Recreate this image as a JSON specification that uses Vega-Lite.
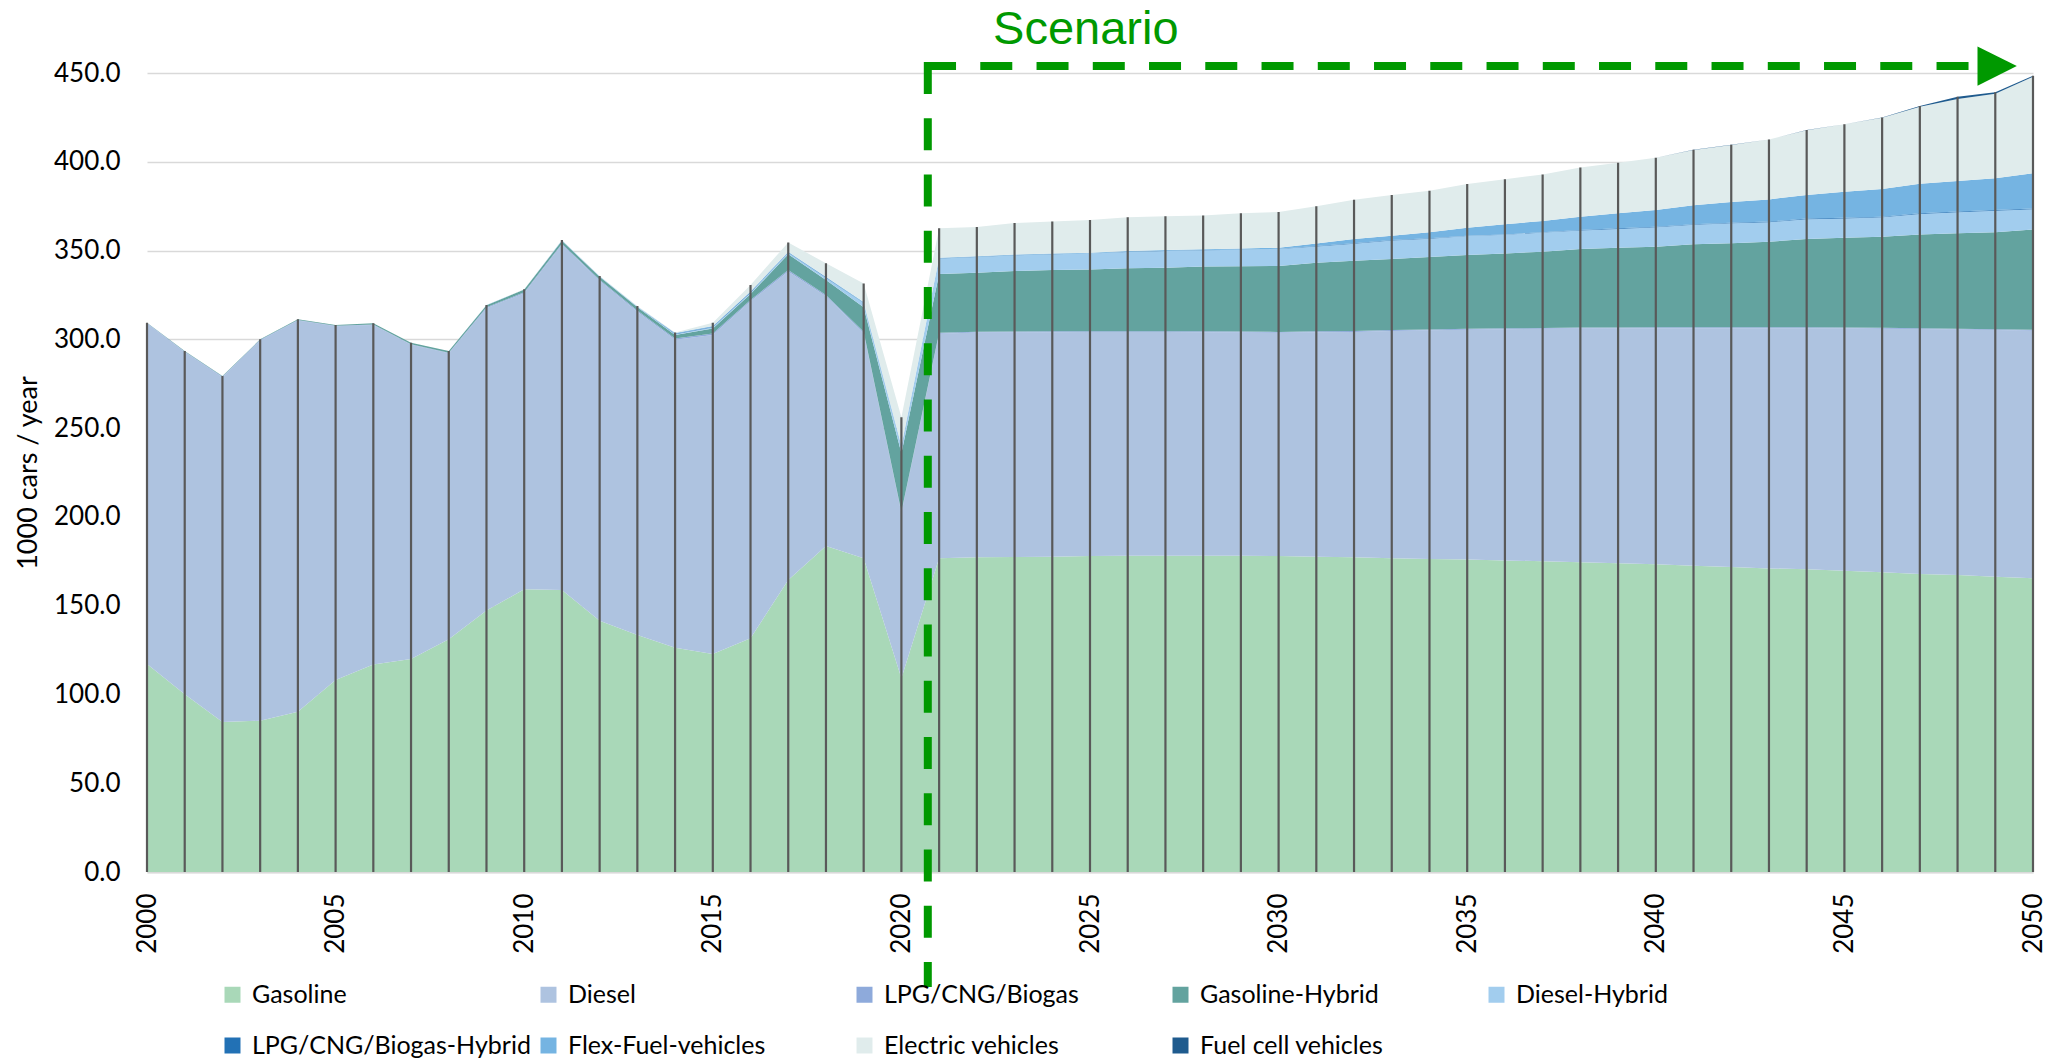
{
  "$schema": "https://vega.github.io/schema/vega-lite/v6.json",
  "width": 1886,
  "height": 799,
  "autosize": {"type": "none"},
  "padding": {"left": 147, "top": 73, "right": 21, "bottom": 189},
  "background": "white",
  "config": {
    "view": {"stroke": null},
    "font": "Lato",
    "axis": {"labelFont": "Lato", "titleFont": "Lato", "labelColor": "#000000", "titleColor": "#000000"},
    "axisX": {"labelAngle": 270, "labelFontSize": 26, "labelPadding": 21, "ticks": false, "tickSize": 0, "grid": false, "domain": true, "domainColor": "#d9d9d9", "domainWidth": 2},
    "axisY": {"labelFontSize": 26, "labelPadding": 27, "ticks": false, "tickSize": 0, "domain": false, "grid": true, "gridColor": "#d9d9d9", "gridWidth": 1.5, "titleFontSize": 27, "titleFontWeight": "normal", "titleAngle": 270, "titleX": -119, "titleBaseline": "middle", "titleAlign": "center"},
    "legend": {"labelFont": "Lato"}
  },
  "datasets": {
    "fuels": [
      {"fuel": "Gasoline", "rank": 1},
      {"fuel": "Diesel", "rank": 2},
      {"fuel": "LPG/CNG/Biogas", "rank": 3},
      {"fuel": "Gasoline-Hybrid", "rank": 4},
      {"fuel": "Diesel-Hybrid", "rank": 5},
      {"fuel": "LPG/CNG/Biogas-Hybrid", "rank": 6},
      {"fuel": "Flex-Fuel-vehicles", "rank": 7},
      {"fuel": "Electric vehicles", "rank": 8},
      {"fuel": "Fuel cell vehicles", "rank": 9}
    ],
    "sales": [
      {"year":2000,"fuel":"Gasoline","value":117.1},{"year":2000,"fuel":"Diesel","value":191.8},{"year":2000,"fuel":"LPG/CNG/Biogas","value":0.3},{"year":2000,"fuel":"Gasoline-Hybrid","value":0.2},{"year":2000,"fuel":"Diesel-Hybrid","value":0},{"year":2000,"fuel":"LPG/CNG/Biogas-Hybrid","value":0},{"year":2000,"fuel":"Flex-Fuel-vehicles","value":0},{"year":2000,"fuel":"Electric vehicles","value":0},{"year":2000,"fuel":"Fuel cell vehicles","value":0},
      {"year":2001,"fuel":"Gasoline","value":100.1},{"year":2001,"fuel":"Diesel","value":192.8},{"year":2001,"fuel":"LPG/CNG/Biogas","value":0.3},{"year":2001,"fuel":"Gasoline-Hybrid","value":0.2},{"year":2001,"fuel":"Diesel-Hybrid","value":0},{"year":2001,"fuel":"LPG/CNG/Biogas-Hybrid","value":0},{"year":2001,"fuel":"Flex-Fuel-vehicles","value":0},{"year":2001,"fuel":"Electric vehicles","value":0},{"year":2001,"fuel":"Fuel cell vehicles","value":0},
      {"year":2002,"fuel":"Gasoline","value":84.5},{"year":2002,"fuel":"Diesel","value":194.2},{"year":2002,"fuel":"LPG/CNG/Biogas","value":0.3},{"year":2002,"fuel":"Gasoline-Hybrid","value":0.3},{"year":2002,"fuel":"Diesel-Hybrid","value":0},{"year":2002,"fuel":"LPG/CNG/Biogas-Hybrid","value":0},{"year":2002,"fuel":"Flex-Fuel-vehicles","value":0},{"year":2002,"fuel":"Electric vehicles","value":0},{"year":2002,"fuel":"Fuel cell vehicles","value":0},
      {"year":2003,"fuel":"Gasoline","value":85.2},{"year":2003,"fuel":"Diesel","value":214.2},{"year":2003,"fuel":"LPG/CNG/Biogas","value":0.3},{"year":2003,"fuel":"Gasoline-Hybrid","value":0.3},{"year":2003,"fuel":"Diesel-Hybrid","value":0},{"year":2003,"fuel":"LPG/CNG/Biogas-Hybrid","value":0},{"year":2003,"fuel":"Flex-Fuel-vehicles","value":0},{"year":2003,"fuel":"Electric vehicles","value":0},{"year":2003,"fuel":"Fuel cell vehicles","value":0},
      {"year":2004,"fuel":"Gasoline","value":90.3},{"year":2004,"fuel":"Diesel","value":220.3},{"year":2004,"fuel":"LPG/CNG/Biogas","value":0.3},{"year":2004,"fuel":"Gasoline-Hybrid","value":0.4},{"year":2004,"fuel":"Diesel-Hybrid","value":0},{"year":2004,"fuel":"LPG/CNG/Biogas-Hybrid","value":0},{"year":2004,"fuel":"Flex-Fuel-vehicles","value":0},{"year":2004,"fuel":"Electric vehicles","value":0},{"year":2004,"fuel":"Fuel cell vehicles","value":0},
      {"year":2005,"fuel":"Gasoline","value":108.1},{"year":2005,"fuel":"Diesel","value":199.2},{"year":2005,"fuel":"LPG/CNG/Biogas","value":0.3},{"year":2005,"fuel":"Gasoline-Hybrid","value":0.5},{"year":2005,"fuel":"Diesel-Hybrid","value":0},{"year":2005,"fuel":"LPG/CNG/Biogas-Hybrid","value":0},{"year":2005,"fuel":"Flex-Fuel-vehicles","value":0},{"year":2005,"fuel":"Electric vehicles","value":0},{"year":2005,"fuel":"Fuel cell vehicles","value":0},
      {"year":2006,"fuel":"Gasoline","value":116.9},{"year":2006,"fuel":"Diesel","value":191.2},{"year":2006,"fuel":"LPG/CNG/Biogas","value":0.3},{"year":2006,"fuel":"Gasoline-Hybrid","value":0.6},{"year":2006,"fuel":"Diesel-Hybrid","value":0},{"year":2006,"fuel":"LPG/CNG/Biogas-Hybrid","value":0},{"year":2006,"fuel":"Flex-Fuel-vehicles","value":0},{"year":2006,"fuel":"Electric vehicles","value":0},{"year":2006,"fuel":"Fuel cell vehicles","value":0},
      {"year":2007,"fuel":"Gasoline","value":120.0},{"year":2007,"fuel":"Diesel","value":177.0},{"year":2007,"fuel":"LPG/CNG/Biogas","value":0.3},{"year":2007,"fuel":"Gasoline-Hybrid","value":0.8},{"year":2007,"fuel":"Diesel-Hybrid","value":0},{"year":2007,"fuel":"LPG/CNG/Biogas-Hybrid","value":0},{"year":2007,"fuel":"Flex-Fuel-vehicles","value":0},{"year":2007,"fuel":"Electric vehicles","value":0},{"year":2007,"fuel":"Fuel cell vehicles","value":0},
      {"year":2008,"fuel":"Gasoline","value":131.1},{"year":2008,"fuel":"Diesel","value":161.1},{"year":2008,"fuel":"LPG/CNG/Biogas","value":0.3},{"year":2008,"fuel":"Gasoline-Hybrid","value":0.9},{"year":2008,"fuel":"Diesel-Hybrid","value":0},{"year":2008,"fuel":"LPG/CNG/Biogas-Hybrid","value":0},{"year":2008,"fuel":"Flex-Fuel-vehicles","value":0},{"year":2008,"fuel":"Electric vehicles","value":0},{"year":2008,"fuel":"Fuel cell vehicles","value":0},
      {"year":2009,"fuel":"Gasoline","value":147.3},{"year":2009,"fuel":"Diesel","value":170.2},{"year":2009,"fuel":"LPG/CNG/Biogas","value":0.5},{"year":2009,"fuel":"Gasoline-Hybrid","value":1.2},{"year":2009,"fuel":"Diesel-Hybrid","value":0.1},{"year":2009,"fuel":"LPG/CNG/Biogas-Hybrid","value":0},{"year":2009,"fuel":"Flex-Fuel-vehicles","value":0},{"year":2009,"fuel":"Electric vehicles","value":0},{"year":2009,"fuel":"Fuel cell vehicles","value":0},
      {"year":2010,"fuel":"Gasoline","value":159.2},{"year":2010,"fuel":"Diesel","value":166.8},{"year":2010,"fuel":"LPG/CNG/Biogas","value":0.5},{"year":2010,"fuel":"Gasoline-Hybrid","value":1.5},{"year":2010,"fuel":"Diesel-Hybrid","value":0.1},{"year":2010,"fuel":"LPG/CNG/Biogas-Hybrid","value":0},{"year":2010,"fuel":"Flex-Fuel-vehicles","value":0},{"year":2010,"fuel":"Electric vehicles","value":0.1},{"year":2010,"fuel":"Fuel cell vehicles","value":0},
      {"year":2011,"fuel":"Gasoline","value":158.8},{"year":2011,"fuel":"Diesel","value":194.6},{"year":2011,"fuel":"LPG/CNG/Biogas","value":0.5},{"year":2011,"fuel":"Gasoline-Hybrid","value":1.6},{"year":2011,"fuel":"Diesel-Hybrid","value":0.2},{"year":2011,"fuel":"LPG/CNG/Biogas-Hybrid","value":0},{"year":2011,"fuel":"Flex-Fuel-vehicles","value":0.1},{"year":2011,"fuel":"Electric vehicles","value":0.1},{"year":2011,"fuel":"Fuel cell vehicles","value":0},
      {"year":2012,"fuel":"Gasoline","value":141.5},{"year":2012,"fuel":"Diesel","value":191.5},{"year":2012,"fuel":"LPG/CNG/Biogas","value":0.5},{"year":2012,"fuel":"Gasoline-Hybrid","value":1.7},{"year":2012,"fuel":"Diesel-Hybrid","value":0.2},{"year":2012,"fuel":"LPG/CNG/Biogas-Hybrid","value":0},{"year":2012,"fuel":"Flex-Fuel-vehicles","value":0.1},{"year":2012,"fuel":"Electric vehicles","value":0.2},{"year":2012,"fuel":"Fuel cell vehicles","value":0},
      {"year":2013,"fuel":"Gasoline","value":133.5},{"year":2013,"fuel":"Diesel","value":182.1},{"year":2013,"fuel":"LPG/CNG/Biogas","value":0.6},{"year":2013,"fuel":"Gasoline-Hybrid","value":1.8},{"year":2013,"fuel":"Diesel-Hybrid","value":0.3},{"year":2013,"fuel":"LPG/CNG/Biogas-Hybrid","value":0},{"year":2013,"fuel":"Flex-Fuel-vehicles","value":0.2},{"year":2013,"fuel":"Electric vehicles","value":0.3},{"year":2013,"fuel":"Fuel cell vehicles","value":0},
      {"year":2014,"fuel":"Gasoline","value":126.3},{"year":2014,"fuel":"Diesel","value":173.4},{"year":2014,"fuel":"LPG/CNG/Biogas","value":0.8},{"year":2014,"fuel":"Gasoline-Hybrid","value":1.9},{"year":2014,"fuel":"Diesel-Hybrid","value":0.5},{"year":2014,"fuel":"LPG/CNG/Biogas-Hybrid","value":0.3},{"year":2014,"fuel":"Flex-Fuel-vehicles","value":0.3},{"year":2014,"fuel":"Electric vehicles","value":0.4},{"year":2014,"fuel":"Fuel cell vehicles","value":0},
      {"year":2015,"fuel":"Gasoline","value":122.8},{"year":2015,"fuel":"Diesel","value":179.7},{"year":2015,"fuel":"LPG/CNG/Biogas","value":0.8},{"year":2015,"fuel":"Gasoline-Hybrid","value":2.8},{"year":2015,"fuel":"Diesel-Hybrid","value":0.7},{"year":2015,"fuel":"LPG/CNG/Biogas-Hybrid","value":0.3},{"year":2015,"fuel":"Flex-Fuel-vehicles","value":0.4},{"year":2015,"fuel":"Electric vehicles","value":1.9},{"year":2015,"fuel":"Fuel cell vehicles","value":0},
      {"year":2016,"fuel":"Gasoline","value":131.6},{"year":2016,"fuel":"Diesel","value":189.8},{"year":2016,"fuel":"LPG/CNG/Biogas","value":0.8},{"year":2016,"fuel":"Gasoline-Hybrid","value":3.3},{"year":2016,"fuel":"Diesel-Hybrid","value":0.8},{"year":2016,"fuel":"LPG/CNG/Biogas-Hybrid","value":0.3},{"year":2016,"fuel":"Flex-Fuel-vehicles","value":0.4},{"year":2016,"fuel":"Electric vehicles","value":3.6},{"year":2016,"fuel":"Fuel cell vehicles","value":0},
      {"year":2017,"fuel":"Gasoline","value":164.5},{"year":2017,"fuel":"Diesel","value":173.7},{"year":2017,"fuel":"LPG/CNG/Biogas","value":0.8},{"year":2017,"fuel":"Gasoline-Hybrid","value":8.9},{"year":2017,"fuel":"Diesel-Hybrid","value":0.9},{"year":2017,"fuel":"LPG/CNG/Biogas-Hybrid","value":0.2},{"year":2017,"fuel":"Flex-Fuel-vehicles","value":0.3},{"year":2017,"fuel":"Electric vehicles","value":5.3},{"year":2017,"fuel":"Fuel cell vehicles","value":0},
      {"year":2018,"fuel":"Gasoline","value":183.6},{"year":2018,"fuel":"Diesel","value":140.6},{"year":2018,"fuel":"LPG/CNG/Biogas","value":0.8},{"year":2018,"fuel":"Gasoline-Hybrid","value":8.4},{"year":2018,"fuel":"Diesel-Hybrid","value":1.3},{"year":2018,"fuel":"LPG/CNG/Biogas-Hybrid","value":0.2},{"year":2018,"fuel":"Flex-Fuel-vehicles","value":0.3},{"year":2018,"fuel":"Electric vehicles","value":7.6},{"year":2018,"fuel":"Fuel cell vehicles","value":0},
      {"year":2019,"fuel":"Gasoline","value":176.7},{"year":2019,"fuel":"Diesel","value":126.8},{"year":2019,"fuel":"LPG/CNG/Biogas","value":0.8},{"year":2019,"fuel":"Gasoline-Hybrid","value":13.7},{"year":2019,"fuel":"Diesel-Hybrid","value":2.4},{"year":2019,"fuel":"LPG/CNG/Biogas-Hybrid","value":0.2},{"year":2019,"fuel":"Flex-Fuel-vehicles","value":0.4},{"year":2019,"fuel":"Electric vehicles","value":10.5},{"year":2019,"fuel":"Fuel cell vehicles","value":0},
      {"year":2020,"fuel":"Gasoline","value":109.1},{"year":2020,"fuel":"Diesel","value":93.0},{"year":2020,"fuel":"LPG/CNG/Biogas","value":0.8},{"year":2020,"fuel":"Gasoline-Hybrid","value":32.9},{"year":2020,"fuel":"Diesel-Hybrid","value":3.5},{"year":2020,"fuel":"LPG/CNG/Biogas-Hybrid","value":0.2},{"year":2020,"fuel":"Flex-Fuel-vehicles","value":0.5},{"year":2020,"fuel":"Electric vehicles","value":16.1},{"year":2020,"fuel":"Fuel cell vehicles","value":0},
      {"year":2021,"fuel":"Gasoline","value":176.7},{"year":2021,"fuel":"Diesel","value":126.5},{"year":2021,"fuel":"LPG/CNG/Biogas","value":0.5},{"year":2021,"fuel":"Gasoline-Hybrid","value":33.1},{"year":2021,"fuel":"Diesel-Hybrid","value":8.7},{"year":2021,"fuel":"LPG/CNG/Biogas-Hybrid","value":0.1},{"year":2021,"fuel":"Flex-Fuel-vehicles","value":0.3},{"year":2021,"fuel":"Electric vehicles","value":16.6},{"year":2021,"fuel":"Fuel cell vehicles","value":0},
      {"year":2022,"fuel":"Gasoline","value":177.2},{"year":2022,"fuel":"Diesel","value":126.6},{"year":2022,"fuel":"LPG/CNG/Biogas","value":0.5},{"year":2022,"fuel":"Gasoline-Hybrid","value":33.2},{"year":2022,"fuel":"Diesel-Hybrid","value":8.9},{"year":2022,"fuel":"LPG/CNG/Biogas-Hybrid","value":0.1},{"year":2022,"fuel":"Flex-Fuel-vehicles","value":0.3},{"year":2022,"fuel":"Electric vehicles","value":16.5},{"year":2022,"fuel":"Fuel cell vehicles","value":0},
      {"year":2023,"fuel":"Gasoline","value":177.4},{"year":2023,"fuel":"Diesel","value":126.5},{"year":2023,"fuel":"LPG/CNG/Biogas","value":0.5},{"year":2023,"fuel":"Gasoline-Hybrid","value":34.1},{"year":2023,"fuel":"Diesel-Hybrid","value":8.9},{"year":2023,"fuel":"LPG/CNG/Biogas-Hybrid","value":0.1},{"year":2023,"fuel":"Flex-Fuel-vehicles","value":0.3},{"year":2023,"fuel":"Electric vehicles","value":17.7},{"year":2023,"fuel":"Fuel cell vehicles","value":0},
      {"year":2024,"fuel":"Gasoline","value":177.6},{"year":2024,"fuel":"Diesel","value":126.4},{"year":2024,"fuel":"LPG/CNG/Biogas","value":0.5},{"year":2024,"fuel":"Gasoline-Hybrid","value":34.5},{"year":2024,"fuel":"Diesel-Hybrid","value":8.9},{"year":2024,"fuel":"LPG/CNG/Biogas-Hybrid","value":0.1},{"year":2024,"fuel":"Flex-Fuel-vehicles","value":0.3},{"year":2024,"fuel":"Electric vehicles","value":18.0},{"year":2024,"fuel":"Fuel cell vehicles","value":0},
      {"year":2025,"fuel":"Gasoline","value":178.0},{"year":2025,"fuel":"Diesel","value":126.1},{"year":2025,"fuel":"LPG/CNG/Biogas","value":0.5},{"year":2025,"fuel":"Gasoline-Hybrid","value":34.8},{"year":2025,"fuel":"Diesel-Hybrid","value":8.9},{"year":2025,"fuel":"LPG/CNG/Biogas-Hybrid","value":0.1},{"year":2025,"fuel":"Flex-Fuel-vehicles","value":0.4},{"year":2025,"fuel":"Electric vehicles","value":18.4},{"year":2025,"fuel":"Fuel cell vehicles","value":0},
      {"year":2026,"fuel":"Gasoline","value":178.1},{"year":2026,"fuel":"Diesel","value":126.0},{"year":2026,"fuel":"LPG/CNG/Biogas","value":0.5},{"year":2026,"fuel":"Gasoline-Hybrid","value":35.4},{"year":2026,"fuel":"Diesel-Hybrid","value":9.2},{"year":2026,"fuel":"LPG/CNG/Biogas-Hybrid","value":0.1},{"year":2026,"fuel":"Flex-Fuel-vehicles","value":0.4},{"year":2026,"fuel":"Electric vehicles","value":19.0},{"year":2026,"fuel":"Fuel cell vehicles","value":0},
      {"year":2027,"fuel":"Gasoline","value":178.1},{"year":2027,"fuel":"Diesel","value":126.0},{"year":2027,"fuel":"LPG/CNG/Biogas","value":0.5},{"year":2027,"fuel":"Gasoline-Hybrid","value":35.7},{"year":2027,"fuel":"Diesel-Hybrid","value":9.5},{"year":2027,"fuel":"LPG/CNG/Biogas-Hybrid","value":0.1},{"year":2027,"fuel":"Flex-Fuel-vehicles","value":0.4},{"year":2027,"fuel":"Electric vehicles","value":19.0},{"year":2027,"fuel":"Fuel cell vehicles","value":0},
      {"year":2028,"fuel":"Gasoline","value":178.1},{"year":2028,"fuel":"Diesel","value":125.9},{"year":2028,"fuel":"LPG/CNG/Biogas","value":0.5},{"year":2028,"fuel":"Gasoline-Hybrid","value":36.5},{"year":2028,"fuel":"Diesel-Hybrid","value":9.2},{"year":2028,"fuel":"LPG/CNG/Biogas-Hybrid","value":0.1},{"year":2028,"fuel":"Flex-Fuel-vehicles","value":0.5},{"year":2028,"fuel":"Electric vehicles","value":19.0},{"year":2028,"fuel":"Fuel cell vehicles","value":0},
      {"year":2029,"fuel":"Gasoline","value":178.1},{"year":2029,"fuel":"Diesel","value":125.8},{"year":2029,"fuel":"LPG/CNG/Biogas","value":0.5},{"year":2029,"fuel":"Gasoline-Hybrid","value":36.8},{"year":2029,"fuel":"Diesel-Hybrid","value":9.3},{"year":2029,"fuel":"LPG/CNG/Biogas-Hybrid","value":0.1},{"year":2029,"fuel":"Flex-Fuel-vehicles","value":0.5},{"year":2029,"fuel":"Electric vehicles","value":19.9},{"year":2029,"fuel":"Fuel cell vehicles","value":0},
      {"year":2030,"fuel":"Gasoline","value":178.0},{"year":2030,"fuel":"Diesel","value":125.7},{"year":2030,"fuel":"LPG/CNG/Biogas","value":0.5},{"year":2030,"fuel":"Gasoline-Hybrid","value":37.1},{"year":2030,"fuel":"Diesel-Hybrid","value":9.6},{"year":2030,"fuel":"LPG/CNG/Biogas-Hybrid","value":0.1},{"year":2030,"fuel":"Flex-Fuel-vehicles","value":0.6},{"year":2030,"fuel":"Electric vehicles","value":20.1},{"year":2030,"fuel":"Fuel cell vehicles","value":0},
      {"year":2031,"fuel":"Gasoline","value":177.6},{"year":2031,"fuel":"Diesel","value":126.4},{"year":2031,"fuel":"LPG/CNG/Biogas","value":0.5},{"year":2031,"fuel":"Gasoline-Hybrid","value":38.7},{"year":2031,"fuel":"Diesel-Hybrid","value":9.1},{"year":2031,"fuel":"LPG/CNG/Biogas-Hybrid","value":0.2},{"year":2031,"fuel":"Flex-Fuel-vehicles","value":1.5},{"year":2031,"fuel":"Electric vehicles","value":20.9},{"year":2031,"fuel":"Fuel cell vehicles","value":0},
      {"year":2032,"fuel":"Gasoline","value":177.2},{"year":2032,"fuel":"Diesel","value":127.0},{"year":2032,"fuel":"LPG/CNG/Biogas","value":0.5},{"year":2032,"fuel":"Gasoline-Hybrid","value":39.6},{"year":2032,"fuel":"Diesel-Hybrid","value":9.6},{"year":2032,"fuel":"LPG/CNG/Biogas-Hybrid","value":0.2},{"year":2032,"fuel":"Flex-Fuel-vehicles","value":2.4},{"year":2032,"fuel":"Electric vehicles","value":22.1},{"year":2032,"fuel":"Fuel cell vehicles","value":0},
      {"year":2033,"fuel":"Gasoline","value":176.7},{"year":2033,"fuel":"Diesel","value":128.0},{"year":2033,"fuel":"LPG/CNG/Biogas","value":0.5},{"year":2033,"fuel":"Gasoline-Hybrid","value":40.0},{"year":2033,"fuel":"Diesel-Hybrid","value":10.5},{"year":2033,"fuel":"LPG/CNG/Biogas-Hybrid","value":0.2},{"year":2033,"fuel":"Flex-Fuel-vehicles","value":2.5},{"year":2033,"fuel":"Electric vehicles","value":22.9},{"year":2033,"fuel":"Fuel cell vehicles","value":0},
      {"year":2034,"fuel":"Gasoline","value":176.3},{"year":2034,"fuel":"Diesel","value":128.8},{"year":2034,"fuel":"LPG/CNG/Biogas","value":0.5},{"year":2034,"fuel":"Gasoline-Hybrid","value":40.8},{"year":2034,"fuel":"Diesel-Hybrid","value":10.3},{"year":2034,"fuel":"LPG/CNG/Biogas-Hybrid","value":0.2},{"year":2034,"fuel":"Flex-Fuel-vehicles","value":3.4},{"year":2034,"fuel":"Electric vehicles","value":23.4},{"year":2034,"fuel":"Fuel cell vehicles","value":0},
      {"year":2035,"fuel":"Gasoline","value":176.0},{"year":2035,"fuel":"Diesel","value":129.4},{"year":2035,"fuel":"LPG/CNG/Biogas","value":0.5},{"year":2035,"fuel":"Gasoline-Hybrid","value":41.6},{"year":2035,"fuel":"Diesel-Hybrid","value":10.7},{"year":2035,"fuel":"LPG/CNG/Biogas-Hybrid","value":0.2},{"year":2035,"fuel":"Flex-Fuel-vehicles","value":4.5},{"year":2035,"fuel":"Electric vehicles","value":24.6},{"year":2035,"fuel":"Fuel cell vehicles","value":0},
      {"year":2036,"fuel":"Gasoline","value":175.5},{"year":2036,"fuel":"Diesel","value":130.2},{"year":2036,"fuel":"LPG/CNG/Biogas","value":0.5},{"year":2036,"fuel":"Gasoline-Hybrid","value":42.2},{"year":2036,"fuel":"Diesel-Hybrid","value":10.5},{"year":2036,"fuel":"LPG/CNG/Biogas-Hybrid","value":0.2},{"year":2036,"fuel":"Flex-Fuel-vehicles","value":5.7},{"year":2036,"fuel":"Electric vehicles","value":25.3},{"year":2036,"fuel":"Fuel cell vehicles","value":0},
      {"year":2037,"fuel":"Gasoline","value":175.0},{"year":2037,"fuel":"Diesel","value":130.9},{"year":2037,"fuel":"LPG/CNG/Biogas","value":0.5},{"year":2037,"fuel":"Gasoline-Hybrid","value":42.9},{"year":2037,"fuel":"Diesel-Hybrid","value":10.8},{"year":2037,"fuel":"LPG/CNG/Biogas-Hybrid","value":0.2},{"year":2037,"fuel":"Flex-Fuel-vehicles","value":6.4},{"year":2037,"fuel":"Electric vehicles","value":26.2},{"year":2037,"fuel":"Fuel cell vehicles","value":0},
      {"year":2038,"fuel":"Gasoline","value":174.4},{"year":2038,"fuel":"Diesel","value":131.7},{"year":2038,"fuel":"LPG/CNG/Biogas","value":0.5},{"year":2038,"fuel":"Gasoline-Hybrid","value":44.3},{"year":2038,"fuel":"Diesel-Hybrid","value":10.4},{"year":2038,"fuel":"LPG/CNG/Biogas-Hybrid","value":0.3},{"year":2038,"fuel":"Flex-Fuel-vehicles","value":7.5},{"year":2038,"fuel":"Electric vehicles","value":27.7},{"year":2038,"fuel":"Fuel cell vehicles","value":0},
      {"year":2039,"fuel":"Gasoline","value":173.9},{"year":2039,"fuel":"Diesel","value":132.3},{"year":2039,"fuel":"LPG/CNG/Biogas","value":0.5},{"year":2039,"fuel":"Gasoline-Hybrid","value":44.9},{"year":2039,"fuel":"Diesel-Hybrid","value":10.6},{"year":2039,"fuel":"LPG/CNG/Biogas-Hybrid","value":0.3},{"year":2039,"fuel":"Flex-Fuel-vehicles","value":8.5},{"year":2039,"fuel":"Electric vehicles","value":28.5},{"year":2039,"fuel":"Fuel cell vehicles","value":0},
      {"year":2040,"fuel":"Gasoline","value":173.3},{"year":2040,"fuel":"Diesel","value":133.0},{"year":2040,"fuel":"LPG/CNG/Biogas","value":0.5},{"year":2040,"fuel":"Gasoline-Hybrid","value":45.4},{"year":2040,"fuel":"Diesel-Hybrid","value":10.9},{"year":2040,"fuel":"LPG/CNG/Biogas-Hybrid","value":0.3},{"year":2040,"fuel":"Flex-Fuel-vehicles","value":9.4},{"year":2040,"fuel":"Electric vehicles","value":29.4},{"year":2040,"fuel":"Fuel cell vehicles","value":0.1},
      {"year":2041,"fuel":"Gasoline","value":172.5},{"year":2041,"fuel":"Diesel","value":133.8},{"year":2041,"fuel":"LPG/CNG/Biogas","value":0.5},{"year":2041,"fuel":"Gasoline-Hybrid","value":46.7},{"year":2041,"fuel":"Diesel-Hybrid","value":11.0},{"year":2041,"fuel":"LPG/CNG/Biogas-Hybrid","value":0.3},{"year":2041,"fuel":"Flex-Fuel-vehicles","value":10.7},{"year":2041,"fuel":"Electric vehicles","value":31.2},{"year":2041,"fuel":"Fuel cell vehicles","value":0.1},
      {"year":2042,"fuel":"Gasoline","value":171.8},{"year":2042,"fuel":"Diesel","value":134.5},{"year":2042,"fuel":"LPG/CNG/Biogas","value":0.5},{"year":2042,"fuel":"Gasoline-Hybrid","value":47.3},{"year":2042,"fuel":"Diesel-Hybrid","value":11.3},{"year":2042,"fuel":"LPG/CNG/Biogas-Hybrid","value":0.3},{"year":2042,"fuel":"Flex-Fuel-vehicles","value":11.6},{"year":2042,"fuel":"Electric vehicles","value":32.2},{"year":2042,"fuel":"Fuel cell vehicles","value":0.1},
      {"year":2043,"fuel":"Gasoline","value":171.0},{"year":2043,"fuel":"Diesel","value":135.3},{"year":2043,"fuel":"LPG/CNG/Biogas","value":0.5},{"year":2043,"fuel":"Gasoline-Hybrid","value":48.2},{"year":2043,"fuel":"Diesel-Hybrid","value":11.0},{"year":2043,"fuel":"LPG/CNG/Biogas-Hybrid","value":0.3},{"year":2043,"fuel":"Flex-Fuel-vehicles","value":12.5},{"year":2043,"fuel":"Electric vehicles","value":33.7},{"year":2043,"fuel":"Fuel cell vehicles","value":0.1},
      {"year":2044,"fuel":"Gasoline","value":170.5},{"year":2044,"fuel":"Diesel","value":135.8},{"year":2044,"fuel":"LPG/CNG/Biogas","value":0.5},{"year":2044,"fuel":"Gasoline-Hybrid","value":49.7},{"year":2044,"fuel":"Diesel-Hybrid","value":11.1},{"year":2044,"fuel":"LPG/CNG/Biogas-Hybrid","value":0.4},{"year":2044,"fuel":"Flex-Fuel-vehicles","value":13.3},{"year":2044,"fuel":"Electric vehicles","value":36.5},{"year":2044,"fuel":"Fuel cell vehicles","value":0.1},
      {"year":2045,"fuel":"Gasoline","value":169.7},{"year":2045,"fuel":"Diesel","value":136.5},{"year":2045,"fuel":"LPG/CNG/Biogas","value":0.5},{"year":2045,"fuel":"Gasoline-Hybrid","value":50.5},{"year":2045,"fuel":"Diesel-Hybrid","value":10.9},{"year":2045,"fuel":"LPG/CNG/Biogas-Hybrid","value":0.4},{"year":2045,"fuel":"Flex-Fuel-vehicles","value":14.6},{"year":2045,"fuel":"Electric vehicles","value":38.0},{"year":2045,"fuel":"Fuel cell vehicles","value":0.1},
      {"year":2046,"fuel":"Gasoline","value":168.8},{"year":2046,"fuel":"Diesel","value":137.2},{"year":2046,"fuel":"LPG/CNG/Biogas","value":0.5},{"year":2046,"fuel":"Gasoline-Hybrid","value":51.3},{"year":2046,"fuel":"Diesel-Hybrid","value":10.9},{"year":2046,"fuel":"LPG/CNG/Biogas-Hybrid","value":0.4},{"year":2046,"fuel":"Flex-Fuel-vehicles","value":15.6},{"year":2046,"fuel":"Electric vehicles","value":40.1},{"year":2046,"fuel":"Fuel cell vehicles","value":0.2},
      {"year":2047,"fuel":"Gasoline","value":167.8},{"year":2047,"fuel":"Diesel","value":138.0},{"year":2047,"fuel":"LPG/CNG/Biogas","value":0.5},{"year":2047,"fuel":"Gasoline-Hybrid","value":52.8},{"year":2047,"fuel":"Diesel-Hybrid","value":11.5},{"year":2047,"fuel":"LPG/CNG/Biogas-Hybrid","value":0.4},{"year":2047,"fuel":"Flex-Fuel-vehicles","value":16.6},{"year":2047,"fuel":"Electric vehicles","value":43.4},{"year":2047,"fuel":"Fuel cell vehicles","value":0.4},
      {"year":2048,"fuel":"Gasoline","value":167.3},{"year":2048,"fuel":"Diesel","value":138.2},{"year":2048,"fuel":"LPG/CNG/Biogas","value":0.5},{"year":2048,"fuel":"Gasoline-Hybrid","value":53.7},{"year":2048,"fuel":"Diesel-Hybrid","value":11.9},{"year":2048,"fuel":"LPG/CNG/Biogas-Hybrid","value":0.4},{"year":2048,"fuel":"Flex-Fuel-vehicles","value":17.2},{"year":2048,"fuel":"Electric vehicles","value":46.1},{"year":2048,"fuel":"Fuel cell vehicles","value":1.3},
      {"year":2049,"fuel":"Gasoline","value":166.3},{"year":2049,"fuel":"Diesel","value":138.9},{"year":2049,"fuel":"LPG/CNG/Biogas","value":0.5},{"year":2049,"fuel":"Gasoline-Hybrid","value":54.6},{"year":2049,"fuel":"Diesel-Hybrid","value":12.1},{"year":2049,"fuel":"LPG/CNG/Biogas-Hybrid","value":0.4},{"year":2049,"fuel":"Flex-Fuel-vehicles","value":17.9},{"year":2049,"fuel":"Electric vehicles","value":47.6},{"year":2049,"fuel":"Fuel cell vehicles","value":0.8},
      {"year":2050,"fuel":"Gasoline","value":165.4},{"year":2050,"fuel":"Diesel","value":139.5},{"year":2050,"fuel":"LPG/CNG/Biogas","value":0.5},{"year":2050,"fuel":"Gasoline-Hybrid","value":56.4},{"year":2050,"fuel":"Diesel-Hybrid","value":11.5},{"year":2050,"fuel":"LPG/CNG/Biogas-Hybrid","value":0.4},{"year":2050,"fuel":"Flex-Fuel-vehicles","value":19.8},{"year":2050,"fuel":"Electric vehicles","value":54.4},{"year":2050,"fuel":"Fuel cell vehicles","value":0.6}
    ]
  },
  "layer": [
    {
      "data": {"name": "sales"},
      "transform": [
        {"lookup": "fuel", "from": {"data": {"name": "fuels"}, "key": "fuel", "fields": ["rank"]}}
      ],
      "mark": {"type": "area", "interpolate": "linear"},
      "encoding": {
        "x": {
          "field": "year", "type": "quantitative",
          "scale": {"domain": [2000, 2050], "nice": false, "zero": false},
          "axis": {"title": null, "values": [2000, 2005, 2010, 2015, 2020, 2025, 2030, 2035, 2040, 2045, 2050], "format": "d"}
        },
        "y": {
          "aggregate": "sum", "field": "value", "type": "quantitative", "stack": "zero",
          "scale": {"domain": [0, 450], "nice": false},
          "axis": {"title": "1000 cars / year", "values": [0, 50, 100, 150, 200, 250, 300, 350, 400, 450], "format": ".1f"}
        },
        "order": {"field": "rank", "type": "quantitative", "sort": "ascending"},
        "color": {
          "field": "fuel", "type": "nominal",
          "scale": {
            "domain": ["Gasoline", "Diesel", "LPG/CNG/Biogas", "Gasoline-Hybrid", "Diesel-Hybrid", "LPG/CNG/Biogas-Hybrid", "Flex-Fuel-vehicles", "Electric vehicles", "Fuel cell vehicles"],
            "range": ["#a9d8b8", "#aec3e0", "#8eaadb", "#63a39f", "#a2cdee", "#2271b5", "#75b4e2", "#e0ecec", "#1f5b8e"]
          },
          "legend": {
            "title": null, "orient": "none", "legendX": 73, "legendY": 909,
            "direction": "horizontal", "columns": 5, "gridAlign": "all",
            "columnPadding": 5, "rowPadding": 25, "padding": 0,
            "symbolType": "square", "symbolSize": 256, "symbolStrokeWidth": 0, "symbolOpacity": 1,
            "labelFontSize": 25, "labelColor": "#000000", "labelOffset": 7, "labelLimit": 0
          }
        }
      }
    },
    {
      "data": {"name": "sales"},
      "transform": [{"aggregate": [{"op": "sum", "field": "value", "as": "total"}], "groupby": ["year"]}],
      "mark": {"type": "rule", "color": "#595959", "strokeWidth": 2.2},
      "encoding": {
        "x": {"field": "year", "type": "quantitative", "scale": {"domain": [2000, 2050], "nice": false, "zero": false}, "axis": {"title": null, "values": [2000, 2005, 2010, 2015, 2020, 2025, 2030, 2035, 2040, 2045, 2050], "format": "d"}},
        "y": {"field": "total", "type": "quantitative", "scale": {"domain": [0, 450], "nice": false}, "axis": {"title": "1000 cars / year", "values": [0, 50, 100, 150, 200, 250, 300, 350, 400, 450], "format": ".1f"}},
        "y2": {"datum": 0}
      }
    },
    {
      "data": {"values": [{}]},
      "mark": {"type": "rule", "color": "#009900", "strokeWidth": 8, "strokeDash": [32, 24.25], "strokeCap": "butt"},
      "encoding": {
        "x": {"datum": 2020.7, "type": "quantitative", "scale": {"domain": [2000, 2050], "nice": false, "zero": false}, "axis": {"title": null, "values": [2000, 2005, 2010, 2015, 2020, 2025, 2030, 2035, 2040, 2045, 2050], "format": "d"}},
        "y": {"datum": 456.2, "type": "quantitative", "scale": {"domain": [0, 450], "nice": false}, "axis": {"title": "1000 cars / year", "values": [0, 50, 100, 150, 200, 250, 300, 350, 400, 450], "format": ".1f"}},
        "y2": {"datum": -64.8}
      }
    },
    {
      "data": {"values": [{}]},
      "mark": {"type": "rule", "color": "#009900", "strokeWidth": 8, "strokeDash": [32, 24.25], "strokeCap": "butt"},
      "encoding": {
        "x": {"datum": 2020.6, "type": "quantitative", "scale": {"domain": [2000, 2050], "nice": false, "zero": false}, "axis": {"title": null, "values": [2000, 2005, 2010, 2015, 2020, 2025, 2030, 2035, 2040, 2045, 2050], "format": "d"}},
        "x2": {"datum": 2048.35},
        "y": {"datum": 453.9, "type": "quantitative", "scale": {"domain": [0, 450], "nice": false}, "axis": {"title": "1000 cars / year", "values": [0, 50, 100, 150, 200, 250, 300, 350, 400, 450], "format": ".1f"}}
      }
    },
    {
      "data": {"values": [{}]},
      "mark": {"type": "point", "shape": "M-1,-1L1,0L-1,1Z", "filled": true, "color": "#009900", "opacity": 1, "size": 1545, "strokeWidth": 0},
      "encoding": {
        "x": {"datum": 2049.05, "type": "quantitative", "scale": {"domain": [2000, 2050], "nice": false, "zero": false}, "axis": {"title": null, "values": [2000, 2005, 2010, 2015, 2020, 2025, 2030, 2035, 2040, 2045, 2050], "format": "d"}},
        "y": {"datum": 453.9, "type": "quantitative", "scale": {"domain": [0, 450], "nice": false}, "axis": {"title": "1000 cars / year", "values": [0, 50, 100, 150, 200, 250, 300, 350, 400, 450], "format": ".1f"}}
      }
    },
    {
      "data": {"values": [{"label": "Scenario"}]},
      "mark": {"type": "text", "font": "Liberation Sans", "fontSize": 47, "color": "#009900", "align": "center", "baseline": "alphabetic"},
      "encoding": {
        "x": {"datum": 2024.89, "type": "quantitative", "scale": {"domain": [2000, 2050], "nice": false, "zero": false}, "axis": {"title": null, "values": [2000, 2005, 2010, 2015, 2020, 2025, 2030, 2035, 2040, 2045, 2050], "format": "d"}},
        "y": {"datum": 466.3, "type": "quantitative", "scale": {"domain": [0, 450], "nice": false}, "axis": {"title": "1000 cars / year", "values": [0, 50, 100, 150, 200, 250, 300, 350, 400, 450], "format": ".1f"}},
        "text": {"field": "label", "type": "nominal"}
      }
    }
  ]
}
